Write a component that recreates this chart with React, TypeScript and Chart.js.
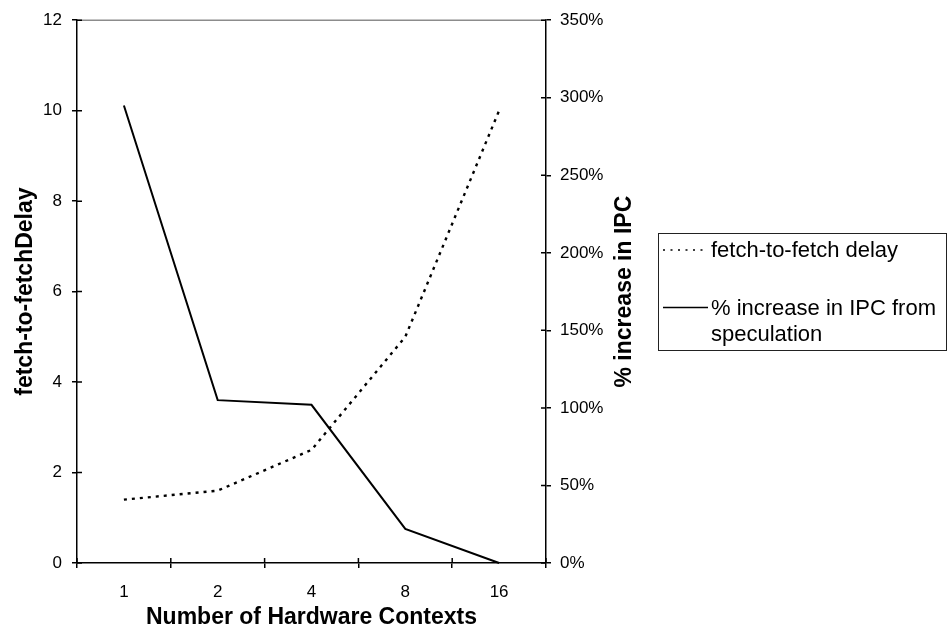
import React, { useEffect, useRef } from "react";
import { Chart, registerables } from "chart.js";

Chart.register(...registerables);

const categories = ["1", "2", "4", "8", "16"];
const fetchDelay = [1.4, 1.6, 2.5, 5.0, 10.0];
const ipcIncrease = [295, 105, 102, 22, 0];
const xTitle = "Number of Hardware Contexts";
const leftTitle = "fetch-to-fetchDelay";
const rightTitle = "% increase in IPC";
const legendFetch = ["fetch-to-fetch delay"];
const legendIpc = ["% increase in IPC from", "speculation"];

const FONT = "'Liberation Sans', Arial, Helvetica, sans-serif";

const decorPlugin = {
  id: "decor",
  afterDraw(chart: any) {
    const ctx = chart.ctx as CanvasRenderingContext2D;
    const { left, right, top, bottom } = chart.chartArea;
    const xs = chart.scales.x;
    const yL = chart.scales.y;
    const yR = chart.scales.y1;
    ctx.save();
    // top border (gray)
    ctx.strokeStyle = "#8c8c8c";
    ctx.lineWidth = 1.5;
    ctx.beginPath();
    ctx.moveTo(left, top);
    ctx.lineTo(right, top);
    ctx.stroke();
    // inner halves of tick marks
    ctx.strokeStyle = "#000";
    ctx.lineWidth = 1.5;
    ctx.beginPath();
    for (let i = 0; i <= categories.length; i++) {
      const px = xs.getPixelForValue(i - 0.5);
      ctx.moveTo(px, bottom);
      ctx.lineTo(px, bottom - 5);
    }
    yL.ticks.forEach((t: any) => {
      const py = yL.getPixelForValue(t.value);
      ctx.moveTo(left, py);
      ctx.lineTo(left + 5, py);
    });
    yR.ticks.forEach((t: any) => {
      const py = yR.getPixelForValue(t.value);
      ctx.moveTo(right, py);
      ctx.lineTo(right - 5, py);
    });
    ctx.stroke();

    // right axis title
    ctx.save();
    ctx.translate(yR.left + 79, (top + bottom) / 2);
    ctx.rotate(-Math.PI / 2);
    ctx.font = `bold 23px ${FONT}`;
    ctx.fillStyle = "#000";
    ctx.textAlign = "center";
    ctx.textBaseline = "middle";
    ctx.fillText(rightTitle, 0, 0);
    ctx.restore();

    // legend
    const bx = 658.5, by = 233.5, bw = 288, bh = 117;
    ctx.strokeStyle = "#222";
    ctx.lineWidth = 1;
    ctx.strokeRect(bx, by, bw, bh);

    ctx.lineWidth = 1.6;
    ctx.strokeStyle = "#000";
    ctx.setLineDash([2, 5.5]);
    ctx.beginPath();
    ctx.moveTo(663, 250);
    ctx.lineTo(708, 250);
    ctx.stroke();
    ctx.setLineDash([]);
    ctx.beginPath();
    ctx.moveTo(663, 307.5);
    ctx.lineTo(708, 307.5);
    ctx.stroke();

    ctx.font = `22px ${FONT}`;
    ctx.fillStyle = "#000";
    ctx.textAlign = "left";
    ctx.textBaseline = "middle";
    legendFetch.forEach((s, i) => ctx.fillText(s, 711, 251 + i * 26));
    legendIpc.forEach((s, i) => ctx.fillText(s, 711, 309 + i * 26));
    ctx.restore();
  },
};

export default function App() {
  const ref = useRef<HTMLCanvasElement>(null);
  useEffect(() => {
    const gridCommon = {
      display: true,
      drawOnChartArea: false,
      drawTicks: true,
      tickLength: 5,
      color: "#000",
      lineWidth: 1.5,
    };
    const chart = new Chart(ref.current as HTMLCanvasElement, {
      type: "line",
      data: {
        labels: categories,
        datasets: [
          {
            label: legendFetch[0],
            data: fetchDelay,
            yAxisID: "y",
            borderColor: "#000",
            borderWidth: 2.4,
            borderDash: [3, 5],
            pointRadius: 0,
            fill: false,
            tension: 0,
          },
          {
            label: legendIpc.join(" "),
            data: ipcIncrease,
            yAxisID: "y1",
            borderColor: "#000",
            borderWidth: 2,
            pointRadius: 0,
            fill: false,
            tension: 0,
            clip: false as any,
          },
        ],
      },
      options: {
        responsive: false,
        animation: false,
        devicePixelRatio: 1,
        layout: { padding: { top: 19, right: 301, bottom: 0, left: 0 } },
        plugins: { legend: { display: false }, tooltip: { enabled: false } },
        scales: {
          x: {
            type: "category",
            offset: true,
            grid: { ...gridCommon, offset: true },
            border: { display: true, color: "#000", width: 1.5 },
            ticks: { color: "#000", padding: 14, font: { family: FONT, size: 17 } },
            title: {
              display: true,
              text: xTitle,
              color: "#000",
              font: { family: FONT, size: 23, weight: "bold" },
              padding: { top: 0, bottom: 2 },
            },
            afterFit: (s: any) => {
              s.height = 70;
            },
          },
          y: {
            position: "left",
            min: 0,
            max: 12,
            grid: gridCommon,
            border: { display: true, color: "#000", width: 1.5 },
            ticks: { stepSize: 2, color: "#000", padding: 10, font: { family: FONT, size: 17 } },
            title: {
              display: true,
              text: leftTitle,
              color: "#000",
              font: { family: FONT, size: 23, weight: "bold" },
              padding: { top: 12, bottom: 0 },
            },
            afterFit: (s: any) => {
              s.width = 77;
            },
          },
          y1: {
            position: "right",
            min: 0,
            max: 350,
            grid: gridCommon,
            border: { display: true, color: "#000", width: 1.5 },
            ticks: {
              stepSize: 50,
              color: "#000",
              padding: 9,
              font: { family: FONT, size: 17 },
              callback: (v: any) => `${v}%`,
            },
            afterFit: (s: any) => {
              s.width = 100;
            },
          },
        },
      } as any,
      plugins: [decorPlugin],
    });
    return () => chart.destroy();
  }, []);
  return (
    <div style={{ position: "absolute", left: 0, top: 0, width: 947, height: 633, background: "#fff" }}>
      <canvas ref={ref} width={947} height={633} style={{ display: "block" }} />
    </div>
  );
}
